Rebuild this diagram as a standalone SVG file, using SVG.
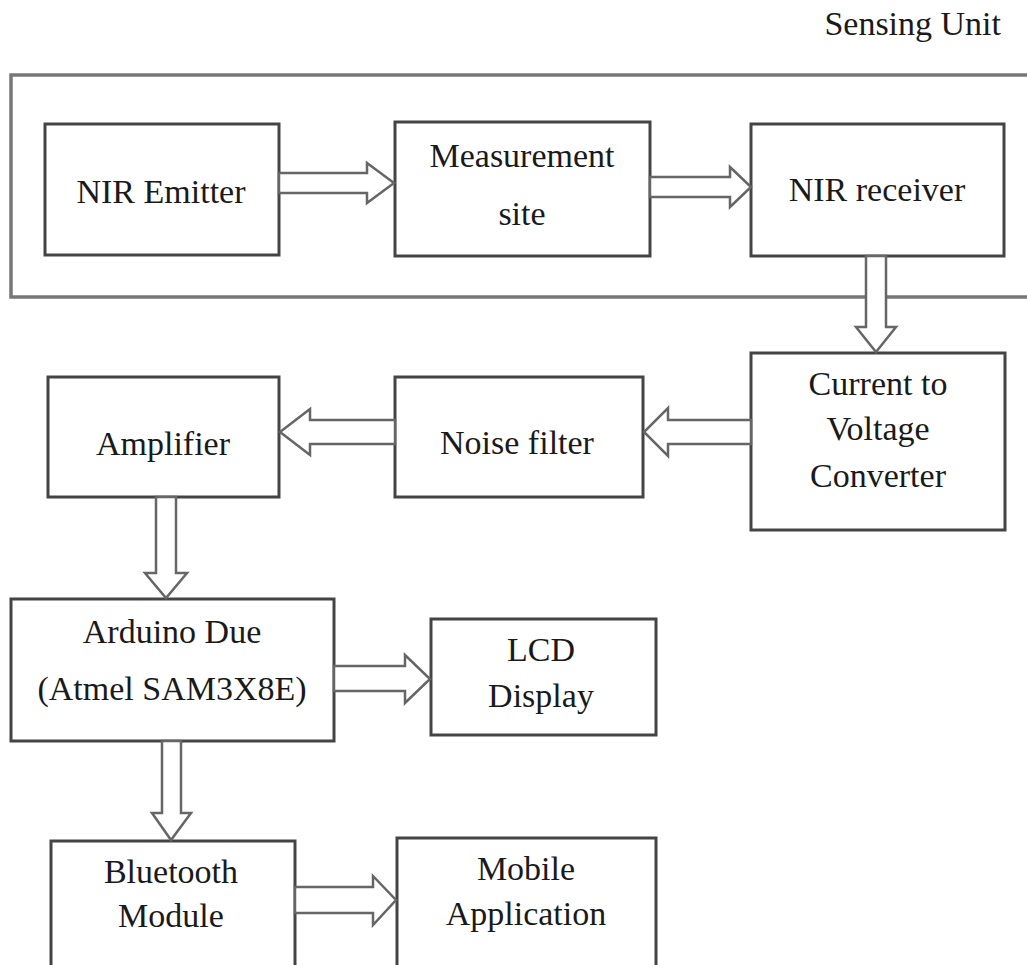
<svg xmlns="http://www.w3.org/2000/svg" width="1027" height="965" viewBox="0 0 1027 965">
<style>
.box{fill:#fff;stroke:#444;stroke-width:3}
.outer{fill:none;stroke:#777;stroke-width:3.5}
.arr{fill:#fff;stroke:#666;stroke-width:2.5;stroke-linejoin:miter}
text{font-family:"Liberation Serif","Times New Roman",serif;font-size:34px;fill:#1a1a1a;text-anchor:middle}
</style>
<rect width="1027" height="965" fill="#fff"/>
<g id="sensing-unit">
<rect class="outer" x="11" y="75" width="1040" height="222"/>
<text x="1001" y="35" style="text-anchor:end">Sensing Unit</text>
</g>
<g id="nir-emitter">
<rect class="box" x="45" y="124" width="234" height="131"/>
<text x="161" y="203">NIR Emitter</text>
</g>
<g id="measurement-site">
<rect class="box" x="395" y="122" width="255" height="134"/>
<text x="522" y="167">Measurement</text>
<text x="522" y="225">site</text>
</g>
<g id="nir-receiver">
<rect class="box" x="751" y="124" width="253" height="132"/>
<text x="877" y="201">NIR receiver</text>
</g>
<g id="current-to-voltage">
<rect class="box" x="751" y="353" width="254" height="177"/>
<text x="878" y="395">Current to</text>
<text x="878" y="440">Voltage</text>
<text x="878" y="487">Converter</text>
</g>
<g id="noise-filter">
<rect class="box" x="395" y="377" width="248" height="120"/>
<text x="517" y="454">Noise filter</text>
</g>
<g id="amplifier">
<rect class="box" x="48" y="377" width="231" height="120"/>
<text x="163" y="455">Amplifier</text>
</g>
<g id="arduino">
<rect class="box" x="11" y="599" width="323" height="142"/>
<text x="172" y="643">Arduino Due</text>
<text x="172" y="700">(Atmel SAM3X8E)</text>
</g>
<g id="lcd">
<rect class="box" x="431" y="619" width="225" height="116"/>
<text x="541" y="661">LCD</text>
<text x="541" y="707">Display</text>
</g>
<g id="bluetooth">
<rect class="box" x="51" y="841" width="244" height="140"/>
<text x="171" y="883">Bluetooth</text>
<text x="171" y="927">Module</text>
</g>
<g id="mobile">
<rect class="box" x="397" y="838" width="259" height="143"/>
<text x="526" y="880">Mobile</text>
<text x="526" y="925">Application</text>
</g>
<g id="connectors">
<polygon class="arr" points="279,173 367,173 367,163 394,183 367,203 367,193 279,193"/>
<polygon class="arr" points="650,177 730,177 730,167 751,187 730,207 730,197 650,197"/>
<polygon class="arr" points="866,256 866,327 856,327 876,352 896,327 886,327 886,256"/>
<polygon class="arr" points="751,420 668,420 668,408 644,432 668,456 668,444 751,444"/>
<polygon class="arr" points="395,420 310,420 310,409 280,432 310,455 310,444 395,444"/>
<polygon class="arr" points="156,497 156,573 145,573 166,598 187,573 176,573 176,497"/>
<polygon class="arr" points="334,666 405,666 405,655 430,679 405,703 405,691 334,691"/>
<polygon class="arr" points="162,741 162,813 152,813 171,840 191,813 181,813 181,741"/>
<polygon class="arr" points="295,887 373,887 373,876 396,900 373,925 373,913 295,913"/>
</g>
</svg>
